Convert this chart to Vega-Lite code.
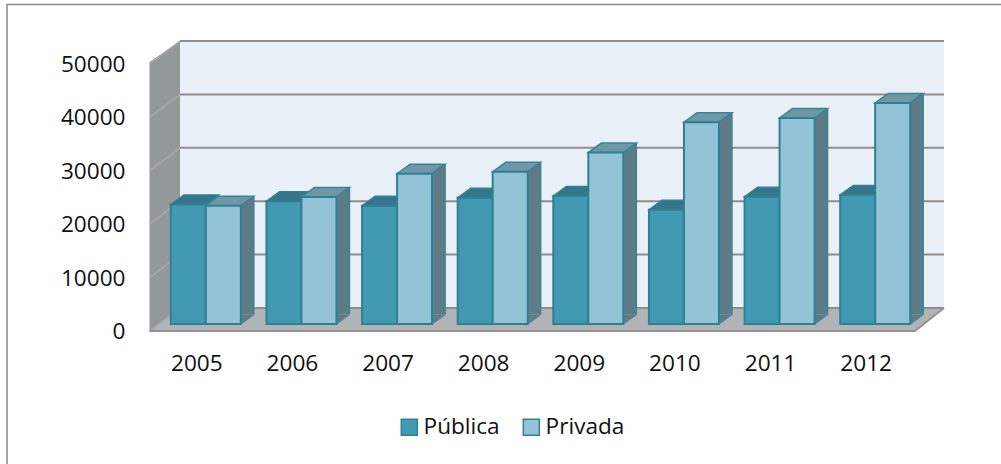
{"$schema":"https://vega.github.io/schema/vega-lite/v6.json","width":765,"height":267,"autosize":"none","padding":{"left":158,"top":57,"right":78,"bottom":140},"background":"white","config":{"view":{"stroke":null},"font":"Open Sans"},
"datasets":{
"anchor":[{"year":"2005","value":0}],
"ticks":[{"year":"2005","value":0},{"year":"2005","value":10000},{"year":"2005","value":20000},{"year":"2005","value":30000},{"year":"2005","value":40000},{"year":"2005","value":50000}],
"bars":[
{"year":"2005","series":"Pública","value":22400},{"year":"2005","series":"Privada","value":22150},
{"year":"2006","series":"Pública","value":23000},{"year":"2006","series":"Privada","value":23800},
{"year":"2007","series":"Pública","value":22150},{"year":"2007","series":"Privada","value":28150},
{"year":"2008","series":"Pública","value":23650},{"year":"2008","series":"Privada","value":28500},
{"year":"2009","series":"Pública","value":24000},{"year":"2009","series":"Privada","value":32100},
{"year":"2010","series":"Pública","value":21400},{"year":"2010","series":"Privada","value":37800},
{"year":"2011","series":"Pública","value":23850},{"year":"2011","series":"Privada","value":38600},
{"year":"2012","series":"Pública","value":24200},{"year":"2012","series":"Privada","value":41400}]},
"encoding":{
"x":{"field":"year","type":"nominal","title":null,"scale":{"domain":["2005","2006","2007","2008","2009","2010","2011","2012"],"paddingInner":0.267,"paddingOuter":0.1335},"axis":{"domain":false,"ticks":false,"labelAngle":0,"labelFontSize":22.6,"labelColor":"#111111","labelPadding":28,"labelOffset":-9,"labelFont":"Open Sans"}},
"y":{"field":"value","type":"quantitative","title":null,"scale":{"domain":[0,50000],"nice":false},"axis":{"domain":false,"ticks":false,"grid":false,"values":[0,10000,20000,30000,40000,50000],"labelFontSize":22.6,"labelColor":"#111111","labelPadding":33,"labelOffset":7.5,"labelFont":"Open Sans","format":"d"}}},
"layer":[
{"data":{"name":"anchor"},"mark":{"type":"point","shape":"M-198.8,140 L-198.8,-319.5 L795.2,-319.5","size":4,"filled":false,"stroke":"#8a8a8a","strokeWidth":1.5,"opacity":1}},
{"data":{"name":"anchor"},"mark":{"type":"point","shape":"M-25.8,-283 L738.2,-283 L738.2,-16 L-25.8,-16 Z","size":4,"filled":true,"fill":"#E9F0F7","strokeWidth":0,"opacity":1}},
{"data":{"name":"anchor"},"mark":{"type":"point","shape":"M-56.3,-262 L-25.8,-283 L-25.8,-16 L-56.3,7 Z","size":4,"filled":true,"fill":"#939899","strokeWidth":0,"opacity":1}},
{"data":{"name":"anchor"},"mark":{"type":"point","shape":"M-56.3,7 L-25.8,-16 L738.2,-16 L709.2,7 Z","size":4,"filled":true,"fill":"#B0B4B7","strokeWidth":0,"opacity":1}},
{"data":{"name":"ticks"},"mark":{"type":"point","shape":"M-56.3,7 L-25.8,-16","size":4,"filled":false,"stroke":"#a6a9aa","strokeWidth":1.5,"opacity":1}},
{"data":{"name":"ticks"},"mark":{"type":"point","shape":"M-25.8,-16 L738.2,-16","size":4,"filled":false,"stroke":"#8e8e8e","strokeWidth":2,"opacity":1}},
{"data":{"name":"anchor"},"mark":{"type":"point","shape":"M-56.3,7 L709.2,7 L738.2,-16","size":4,"filled":false,"stroke":"#939393","strokeWidth":2,"opacity":1}},
{"data":{"name":"bars"},"transform":[{"filter":"datum.series==='Pública'"}],"mark":{"type":"point","shape":"M-35,0 L0,0 L13,-9.5 L-22,-9.5 Z","size":4,"filled":true,"fill":"#35768A","stroke":"#2F7F96","strokeWidth":1.2,"opacity":1}},
{"data":{"name":"bars"},"transform":[{"filter":"datum.series==='Pública'"}],"mark":{"type":"bar","width":35,"xOffset":-17.5,"stroke":"#2F7F96","strokeWidth":2},"encoding":{"y2":{"datum":0},"color":{"field":"series","type":"nominal","scale":{"domain":["Pública","Privada"],"range":["#4299B2","#93C3D6"]},"legend":{"title":null,"orient":"none","legendX":240,"legendY":359,"direction":"horizontal","symbolType":"square","symbolSize":256,"symbolStrokeColor":"#2F7F96","symbolStrokeWidth":1.5,"labelFontSize":22.6,"labelColor":"#111111","labelFont":"Open Sans","labelOffset":3,"columnPadding":20}}}},
{"data":{"name":"bars"},"transform":[{"filter":"datum.series==='Privada'"}],"mark":{"type":"bar","width":13,"xOffset":41.5,"yOffset":-9.5,"y2Offset":-9.5,"fill":"#5E7C88"},"encoding":{"y2":{"datum":0}}},
{"data":{"name":"bars"},"transform":[{"filter":"datum.series==='Privada'"}],"mark":{"type":"point","shape":"M35,0 L48,-9.5 L35,-9.5 Z","size":4,"filled":true,"fill":"#5E7C88","strokeWidth":0,"opacity":1},"encoding":{"y":{"datum":0}}},
{"data":{"name":"bars"},"transform":[{"filter":"datum.series==='Privada'"}],"mark":{"type":"point","shape":"M35,0 L48,-9.5","size":4,"filled":false,"stroke":"#4F8597","strokeWidth":1.5,"opacity":1},"encoding":{"y":{"datum":0}}},
{"data":{"name":"bars"},"transform":[{"filter":"datum.series==='Privada'"}],"mark":{"type":"rule","xOffset":48,"yOffset":-9.5,"y2Offset":-9.5,"stroke":"#3A8299","strokeWidth":1.5},"encoding":{"y2":{"datum":0}}},
{"data":{"name":"bars"},"transform":[{"filter":"datum.series==='Privada'"}],"mark":{"type":"point","shape":"M0,0 L35,0 L48,-9.5 L13,-9.5 Z","size":4,"filled":true,"fill":"#6E98A6","stroke":"#3A8299","strokeWidth":1.5,"opacity":1}},
{"data":{"name":"bars"},"transform":[{"filter":"datum.series==='Privada'"}],"mark":{"type":"bar","width":35,"xOffset":17.5,"stroke":"#2F7F96","strokeWidth":2},"encoding":{"y2":{"datum":0},"color":{"field":"series","type":"nominal"}}}
]}
